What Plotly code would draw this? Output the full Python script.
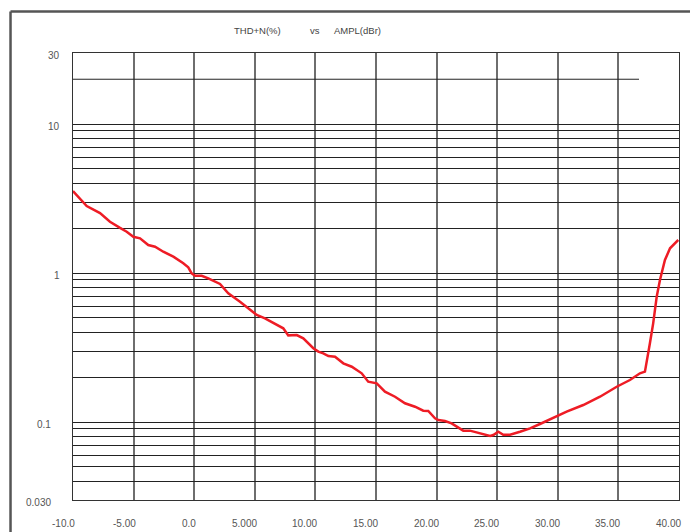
import math
import plotly.graph_objects as go

# ---- data ----
ampl_dbr = [-10.0, -9.15, -8.87, -7.77, -6.95, -6.12, -5.57, -5.02, -4.47, -3.79,
            -3.23, -2.55, -1.72, -0.90, -0.49, -0.21, 0.07, 0.62, 1.16, 2.13,
            2.81, 3.78, 4.60, 5.16, 5.84, 6.81, 7.35, 7.76, 8.46, 9.00,
            9.83, 10.24, 10.65, 11.07, 11.62, 12.30, 13.00, 13.82, 14.36, 15.06,
            15.74, 16.57, 17.39, 18.22, 18.90, 19.31, 19.87, 20.14, 20.69, 21.24,
            22.20, 22.75, 23.58, 24.41, 24.68, 25.09, 25.50, 26.06, 26.88, 27.71,
            28.53, 29.36, 30.73, 32.10, 33.48, 34.86, 35.95, 36.78, 37.19, 37.60,
            37.87, 38.16, 38.43, 38.84, 39.26, 39.94]
thd_n_pct = [3.55, 2.97, 2.82, 2.53, 2.21, 2.01, 1.896, 1.754, 1.712, 1.543,
             1.503, 1.391, 1.288, 1.163, 1.093, 0.997, 0.960, 0.960, 0.923, 0.845,
             0.732, 0.643, 0.565, 0.523, 0.497, 0.448, 0.426, 0.382, 0.384, 0.365,
             0.313, 0.297, 0.2894, 0.2777, 0.2747, 0.248, 0.2353, 0.2125, 0.1866, 0.182,
             0.160, 0.148, 0.1337, 0.1268, 0.1192, 0.1187, 0.106, 0.1033, 0.1017, 0.0981,
             0.0876, 0.0876, 0.0841, 0.0807, 0.0819, 0.0862, 0.0823, 0.0823, 0.0862, 0.0908,
             0.0971, 0.1044, 0.1174, 0.1302, 0.148, 0.1727, 0.1916, 0.2125, 0.218, 0.338,
             0.460, 0.694, 0.899, 1.224, 1.467, 1.668]

x_ticks = [-10, -5, 0, 5, 10, 15, 20, 25, 30, 35, 40]
x_tick_labels = ["-10.0", "-5.00", "0.0", "5.000", "10.00", "15.00",
                 "20.00", "25.00", "30.00", "35.00", "40.00"]
y_grid = [0.04, 0.05, 0.06, 0.07, 0.08, 0.09,
          0.1, 0.2, 0.3, 0.4, 0.5, 0.6, 0.7, 0.8, 0.9,
          1, 2, 3, 4, 5, 6, 7, 8, 9, 10]
y_label_vals = [30, 10, 1, 0.1, 0.03]
y_label_text = ["30", "10", "1", "0.1", "0.030"]
partial_line_y = 20
partial_line_x_end = 36.7

X_RANGE = [-10, 40]
Y_RANGE = [0.03, 30]

FONT = "Liberation Sans"
LABEL_COLOR = "#555555"

# page body has an 8px margin, so the figure is shrunk by that amount
PAGE_OFFSET = 8

fig = go.Figure()
fig.add_trace(go.Scatter(
    x=ampl_dbr, y=thd_n_pct, mode="lines",
    line=dict(color="#ee1c25", width=2.5),
    showlegend=False, hoverinfo="skip",
))

fig.update_layout(
    width=698 - PAGE_OFFSET, height=532 - PAGE_OFFSET,
    margin=dict(l=73 - PAGE_OFFSET, r=19, t=53 - PAGE_OFFSET, b=32),
    paper_bgcolor="white", plot_bgcolor="white",
    showlegend=False,
    xaxis=dict(
        range=X_RANGE, tickvals=x_ticks, showticklabels=False,
        showgrid=True, gridcolor="#6e6e6e", gridwidth=1.5,
        showline=True, linecolor="#333333", linewidth=1, mirror=True,
        ticks="", zeroline=False,
    ),
    yaxis=dict(
        type="log", range=[math.log10(Y_RANGE[0]), math.log10(Y_RANGE[1])],
        tickvals=y_grid, showticklabels=False,
        showgrid=True, gridcolor="#222222", gridwidth=1,
        showline=True, linecolor="#333333", linewidth=1, mirror=True,
        ticks="", zeroline=False,
    ),
)

# partial horizontal grid line at 20 %
fig.add_shape(type="line", xref="x", yref="y",
              x0=X_RANGE[0], x1=partial_line_x_end, y0=partial_line_y, y1=partial_line_y,
              line=dict(color="#222222", width=1))

# outer frame (left and top edges)
fig.add_shape(type="line", xref="paper", yref="paper",
              x0=-0.1031, x1=-0.1031, y0=1.0928, y1=-0.08,
              line=dict(color="#555555", width=2.5))
fig.add_shape(type="line", xref="paper", yref="paper",
              x0=-0.1031, x1=1.04, y0=1.0928, y1=1.0928,
              line=dict(color="#555555", width=2.5))

annotations = []
for v, t in zip(x_ticks, x_tick_labels):
    annotations.append(dict(
        x=v, y=-0.0515, xref="x", yref="paper", text=t, showarrow=False,
        xanchor="right", yanchor="middle", xshift=4,
        font=dict(family=FONT, size=10, color=LABEL_COLOR)))
for v, t in zip(y_label_vals, y_label_text):
    xr = -0.018 if v >= 1 else -0.033
    annotations.append(dict(
        x=xr, y=math.log10(v), xref="paper", yref="y", text=t, showarrow=False,
        xanchor="right", yanchor="middle", yshift=-2,
        font=dict(family=FONT, size=10, color=LABEL_COLOR)))

title_parts = [("THD+N(%)", 232), ("vs", 308), ("AMPL(dBr)", 332)]
for t, px in title_parts:
    annotations.append(dict(
        x=(px - 73) / 606, y=(500 - 31) / 447, xref="paper", yref="paper",
        text=t, showarrow=False, xanchor="left", yanchor="middle",
        font=dict(family=FONT, size=9.5, color="#444444")))

fig.update_layout(annotations=annotations)
fig.write_html("out.html")
